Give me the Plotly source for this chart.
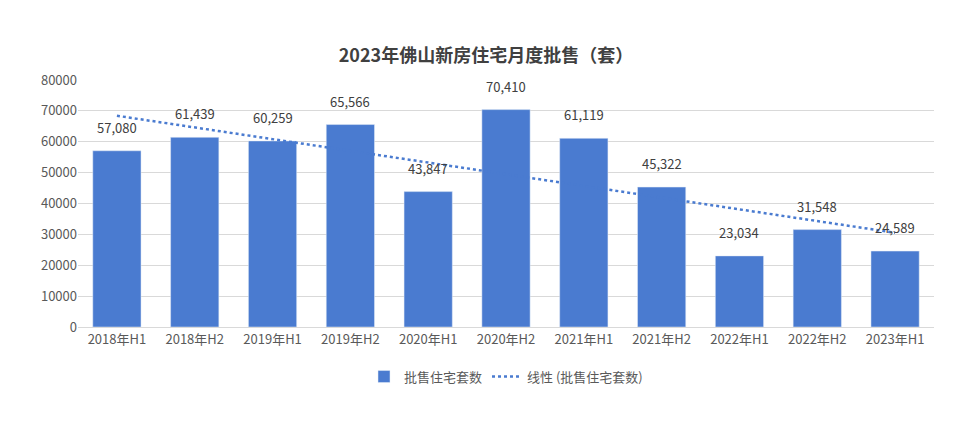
import numpy as np
import plotly.graph_objects as go

categories = ["2018年H1","2018年H2","2019年H1","2019年H2","2020年H1","2020年H2","2021年H1","2021年H2","2022年H1","2022年H2","2023年H1"]
values = [57080, 61439, 60259, 65566, 43847, 70410, 61119, 45322, 23034, 31548, 24589]
y_ticks = [0,10000,20000,30000,40000,50000,60000,70000,80000]

x = np.arange(len(values))
k, b = np.polyfit(x, values, 1)
trend = k * x + b

font = "Noto Sans CJK SC"
fig = go.Figure()
fig.add_trace(go.Bar(x=categories, y=values, name="批售住宅套数", marker_color="#4a7bd0",
                     width=0.62, showlegend=True))
for c, v in zip(categories, values):
    fig.add_annotation(x=c, y=v, text=f"{v:,}", showarrow=False, yanchor="bottom", yshift=12,
                       font=dict(size=13, color="#404040"))
fig.add_trace(go.Scatter(x=categories, y=trend, mode="lines", name="线性 (批售住宅套数)",
                         line=dict(color="#4a7bd0", dash="dot", width=2.5)))
fig.update_layout(
    width=956, height=439, paper_bgcolor="white", plot_bgcolor="white",
    font=dict(family=font, color="#595959", size=13),
    title=dict(text="<b>2023年佛山新房住宅月度批售（套）</b>", x=0.5, y=0.905, xanchor="center",
               font=dict(size=18, color="#404040")),
    margin=dict(l=70, r=30, t=72, b=120),
    bargap=0.38,
    legend=dict(orientation="h", x=0.5, xanchor="center", y=-0.14, yanchor="top", font=dict(size=13)),
    yaxis=dict(range=[0, 80000], tickvals=y_ticks, ticktext=[str(t) for t in y_ticks],
               gridcolor="#d9d9d9", zeroline=False, tickfont=dict(size=13)),
    xaxis=dict(showline=True, linecolor="#d9d9d9", tickfont=dict(size=13)),
)
fig.write_html("out.html")
